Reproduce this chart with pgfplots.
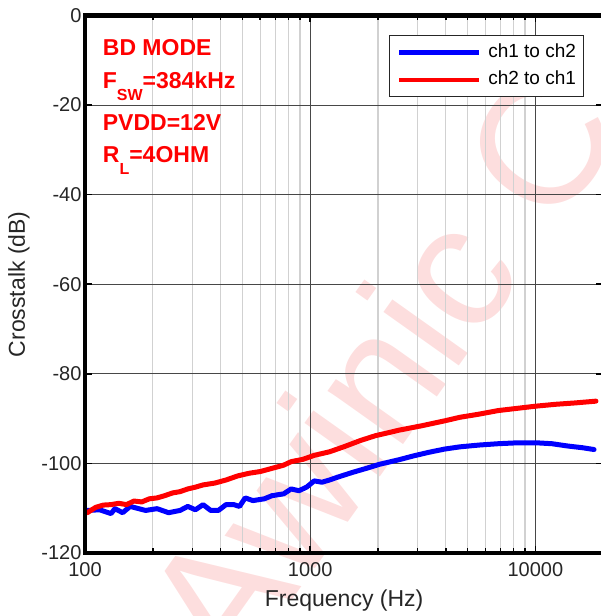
\documentclass[border=0pt]{standalone}
\usepackage{pgfplots}
\pgfplotsset{compat=1.18}
\usepackage{fontspec}
\setmainfont{Liberation Sans}
\definecolor{wm}{RGB}{253,222,222}
\definecolor{pblue}{RGB}{0,0,255}
\definecolor{pred}{RGB}{255,0,0}
\begin{document}
\begin{tikzpicture}[x=1pt,y=1pt]
\node[rotate=54.6, text=wm, font=\fontsize{175}{175}\selectfont, anchor=base west, inner sep=0] at (149.6,-129) {Awinic C};
\begin{axis}[
  name=ax,
  at={(0pt,0pt)}, anchor=south west,
  scale only axis, width=518.2pt, height=537.5pt,
  xmode=log, log basis x=10,
  xmin=100, xmax=20000, ymin=-120, ymax=0,
  xtick={100,1000,10000}, xticklabels={100,1000,10000},
  minor xtick={200,300,400,500,600,700,800,900,2000,3000,4000,5000,6000,7000,8000,9000},
  ytick={-120,-100,-80,-60,-40,-20,0},
  /pgf/number format/assume math mode=true,
  grid=both,
  major grid style={draw=black!72, line width=1.1pt},
  minor grid style={draw=black!18, line width=1.3pt},
  axis line style={line width=4pt, black},
  major tick length=7pt, minor tick length=5pt,
  every tick/.style={black, line width=1.5pt},
  tick label style={font=\fontsize{20}{24}\selectfont, text=black!85},
  xticklabel style={yshift=-6.5pt},
  xlabel={Frequency (Hz)}, ylabel={Crosstalk (dB)},
  every axis x label/.style={at={(axis description cs:0.5,0)}, yshift=-48pt, anchor=center, font=\fontsize{23}{27}\selectfont, text=black!85},
  every axis y label/.style={at={(axis description cs:-0.1274,0.5)}, rotate=90, anchor=center, font=\fontsize{23}{27}\selectfont, text=black!85},
  legend style={at={(axis description cs:0.9639,0.963)}, anchor=north east,
    draw=black!85, line width=1pt, fill=white,
    font=\fontsize{19}{22}\selectfont, row sep=9.5pt,
    inner xsep=8pt, inner ysep=7.5pt,
    nodes={inner sep=0pt, text height=14pt, text depth=4pt},
    /tikz/every odd column/.append style={column sep=6.5pt}},
  legend cell align=left,
  legend image code/.code={\draw[#1, line width=4.7pt, line cap=butt] (0pt,0pt) -- (80pt,0pt);},
  every axis plot/.append style={line join=round, line cap=round},
]
\addplot[pblue, line width=5pt] coordinates {
(102.4,-110.5) (116.1,-110.35) (130.5,-111.2) (135.8,-110.1) (146.9,-111.0)
(158.8,-109.6) (185.8,-110.5) (208.9,-110.1) (235,-111.0) (264.3,-110.5)
(285.9,-109.6) (309.2,-110.35) (334.4,-109.2) (361.6,-110.5) (391.1,-110.5)
(423,-109.2) (457.5,-109.2) (485.3,-109.6) (514.6,-107.7) (556.6,-108.3)
(626,-107.9) (677,-107.2) (761.5,-106.8) (823.6,-105.7) (890.7,-106.1)
(963.4,-105.3) (1042,-103.9) (1127,-104.2) (1219,-103.7) (1318,-103.1)
(1542,-102.0) (1804,-101.0) (2029,-100.2) (2468,-99.2)
(2887,-98.3) (3377,-97.5) (3950,-96.8) (4621,-96.3) (5620,-95.9)
(6836,-95.6) (8318,-95.4) (10118,-95.4) (11835,-95.6) (13843,-96.1)
(16195,-96.5) (18214,-96.9)
};
\addlegendentry{ch1 to ch2}
\addplot[pred, line width=5pt] coordinates {
(102.4,-111.0) (111.6,-109.8) (120.7,-109.3) (130.5,-109.2) (141.2,-108.9)
(152.7,-109.2) (165.1,-108.4) (178.6,-108.6) (193.2,-107.9) (208.9,-107.7)
(225.9,-107.2) (244.4,-106.6) (264.3,-106.3) (285.9,-105.7) (309.2,-105.3)
(334.4,-104.8) (376.1,-104.4) (423,-103.7) (475.8,-102.8) (535.2,-102.2)
(602,-101.8) (677,-101.1) (761.5,-100.4) (823.6,-99.6) (926.4,-99.1)
(1042,-98.2) (1219,-97.4) (1426,-96.2) (1668,-94.9) (1951,-93.8)
(2200,-93.2) (2468,-92.6) (3123,-91.6) (3950,-90.5) (4621,-89.7) (5620,-89.0)
(6836,-88.2) (8318,-87.7) (10118,-87.2) (12310,-86.8) (14970,-86.5)
(18570,-86.1)
};
\addlegendentry{ch2 to ch1}
\end{axis}
\fill[black] (-2.2,-2.2) rectangle (2.2,539.7);
\fill[black] (-2.2,-2.2) rectangle (520,2.2);
\fill[black] (-2.2,535.3) rectangle (520,539.7);
\begin{scope}[every node/.style={anchor=base west, text=pred, font=\bfseries\fontsize{23}{27}\selectfont, inner sep=0}]
\node at (17.7,497.8) {BD MODE};
\node at (17.7,464.3) {F\raisebox{-12pt}{\fontsize{16}{16}\selectfont SW}=384kHz};
\node at (17.7,422.2) {PVDD=12V};
\node at (17.7,390.4) {R\raisebox{-12pt}{\fontsize{16}{16}\selectfont L}=4OHM};
\end{scope}
\pgfresetboundingbox
\useasboundingbox (-85,-63) rectangle (516,553);
\end{tikzpicture}
\end{document}
